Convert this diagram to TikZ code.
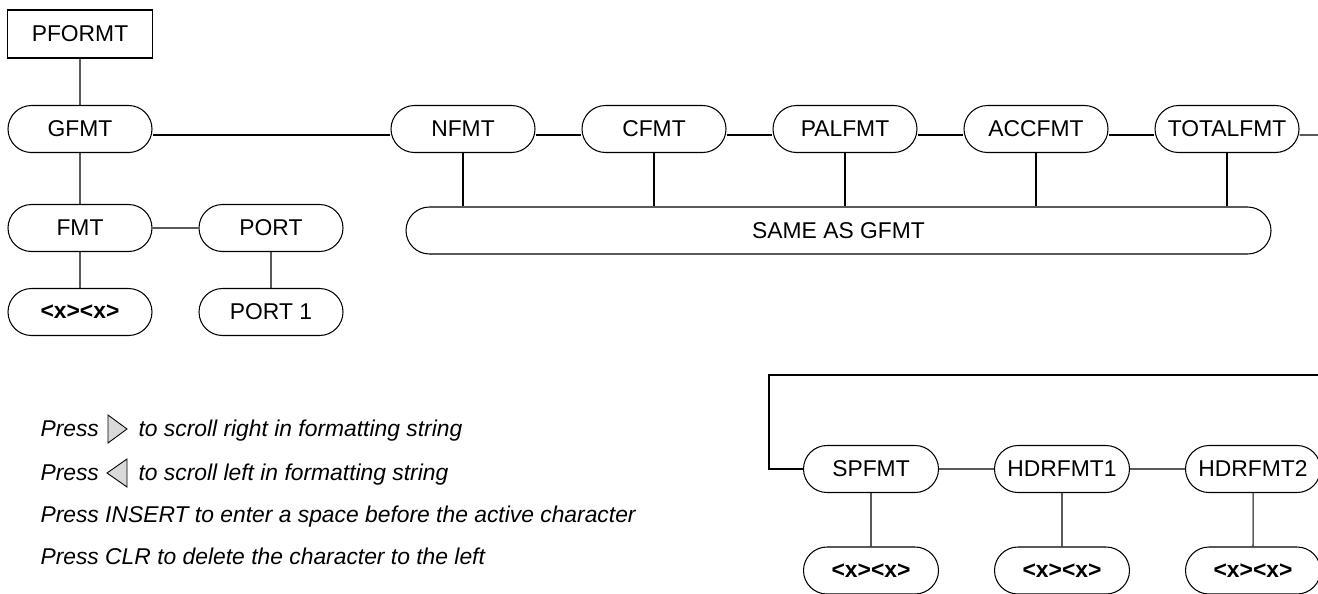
\documentclass[tikz,border=0pt]{standalone}
\usepackage{fontspec}
\setmainfont{Liberation Sans}
\usetikzlibrary{shapes.misc}

\newcommand{\menufont}{\fontsize{13}{15}\selectfont}
\newcommand{\notefont}{\fontsize{13}{15}\selectfont\itshape}

\begin{document}
\begin{tikzpicture}[node distance=3.82cm, line width=0.6pt,
    menu/.style={rounded rectangle, draw, minimum width=2.88cm, minimum height=0.94cm, inner sep=0pt, font=\menufont},
    head/.style={rectangle, draw, minimum width=2.9cm, minimum height=0.96cm, inner sep=0pt, font=\menufont},
    entry/.style={menu, font=\menufont\bfseries},
    note/.style={inner sep=0pt, anchor=base west, font=\notefont},
    key/.style={draw, fill=black!15, line width=0.5pt}]
    \useasboundingbox (0,0) rectangle (26.36,-11.86);
    % main branch
    \node [head] (pformt) at (1.6,-0.68) {PFORMT};
    \node [menu, below of=pformt, node distance=1.9cm] (gfmt) {GFMT};
    \node [menu, below of=gfmt, node distance=1.98cm] (fmt) {FMT};
    \node [entry, below of=fmt, node distance=1.68cm] (fmtval) {<x><x>};
    \node [menu, right of=fmt] (port) {PORT};
    \node [menu, below of=port, node distance=1.68cm] (portval) {PORT 1};
    \node [menu, right of=gfmt, node distance=7.66cm] (nfmt) {NFMT};
    \node [menu, right of=nfmt] (cfmt) {CFMT};
    \node [menu, right of=cfmt] (palfmt) {PALFMT};
    \node [menu, right of=palfmt] (accfmt) {ACCFMT};
    \node [menu, right of=accfmt] (totalfmt) {TOTALFMT};
    \node [menu, minimum width=17.3cm] (same) at (16.77,-4.61) {SAME AS GFMT};
    % continued row
    \node [menu, minimum width=2.7cm] (spfmt) at (17.42,-9.38) {SPFMT};
    \node [menu, minimum width=2.7cm, right of=spfmt] (hdr1) {HDRFMT1};
    \node [menu, minimum width=2.7cm, right of=hdr1] (hdr2) {HDRFMT2};
    \node [entry, minimum width=2.7cm, below of=spfmt, node distance=2.03cm] (spval) {<x><x>};
    \node [entry, minimum width=2.7cm, below of=hdr1, node distance=2.03cm] (hdr1val) {<x><x>};
    \node [entry, minimum width=2.7cm, below of=hdr2, node distance=2.03cm] (hdr2val) {<x><x>};
    \coordinate (wrapa) at (26.36,-2.7);
    \coordinate (wrapb) at (26.36,-7.5);
    \coordinate (turn) at (15.38,-7.5);

    \draw (pformt) -- (gfmt);
    \draw (gfmt) -- (fmt);
    \draw (fmt) -- (fmtval);
    \draw (fmt) -- (port);
    \draw (port) -- (portval);
    \draw ([yshift=-0.12cm]gfmt.east) -- ([yshift=-0.12cm]nfmt.west);
    \foreach \a/\b in {nfmt/cfmt, cfmt/palfmt, palfmt/accfmt, accfmt/totalfmt}
        \draw ([yshift=-0.12cm]\a.east) -- ([yshift=-0.12cm]\b.west);
    \draw ([yshift=-0.12cm]totalfmt.east) -- (wrapa);
    \foreach \n in {nfmt, cfmt, palfmt, accfmt, totalfmt}
        \draw (\n.south) -- (\n.south |- same.north);
    \draw (wrapb) -- (turn) |- (spfmt.west);
    \draw (spfmt) -- (hdr1);
    \draw (hdr1) -- (hdr2);
    \draw (spfmt) -- (spval);
    \draw (hdr1) -- (hdr1val);
    \draw (hdr2) -- (hdr2val);

    % key notes
    \node [note] (press1) at (0.8,-8.72) {Press};
    \draw [key] (2.16,-8.86) -- (2.54,-8.58) -- (2.16,-8.30) -- cycle;
    \node [note] (right1) at (2.76,-8.72) {to scroll right in formatting string};
    \node [note] (press2) at (0.8,-9.6) {Press};
    \draw [key] (2.54,-9.74) -- (2.14,-9.46) -- (2.54,-9.18) -- cycle;
    \node [note] (left2) at (2.76,-9.6) {to scroll left in formatting string};
    \node [note] (insert3) at (0.8,-10.44) {Press INSERT to enter a space before the active character};
    \node [note] (clr4) at (0.8,-11.28) {Press CLR to delete the character to the left};
\end{tikzpicture}
\end{document}
